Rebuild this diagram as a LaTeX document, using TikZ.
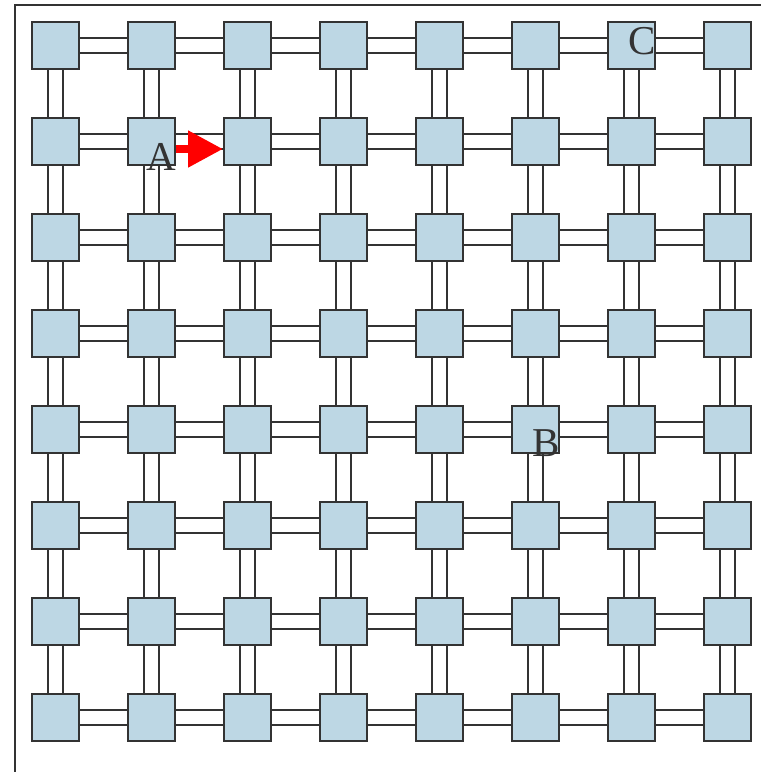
\documentclass[tikz,border=0pt]{standalone}
\usepackage{fontspec}
\setmainfont{Liberation Serif}
\usetikzlibrary{arrows.meta}
\definecolor{boxfill}{HTML}{BDD7E4}
\definecolor{ink}{HTML}{333333}
\tikzset{
  cell/.style={draw=ink, fill=boxfill, line width=2pt, minimum size=47pt, inner sep=0pt},
  wire/.style={draw=ink, line width=2pt},
  frameline/.style={draw=ink, line width=2pt},
  lab/.style={text=ink, inner sep=0pt, font=\fontsize{41}{41}\selectfont},
  redarrow/.style={draw=red, line width=8pt, -{Triangle[length=35pt,width=35pt]}}
}
\begin{document}
\begin{tikzpicture}[x=1pt,y=-1pt]
\useasboundingbox (0,0) rectangle (761,772);
\coordinate (ftop) at (761,5.3);
\coordinate (fcorner) at (15.3,5.3);
\coordinate (fbot) at (15.3,772);
\draw[frameline] (ftop) -- (fcorner) -- (fbot);
\foreach \i in {0,...,7}{
  \foreach \j in {0,...,7}{
    \node[cell] (n-\j-\i) at ({55.5+96*\i},{45.5+96*\j}) {};
  }
}
\foreach \j in {0,...,7}{
  \foreach \i [evaluate=\i as \k using int(\i+1)] in {0,...,6}{
    \draw[wire] ([yshift=7.5pt]n-\j-\i.east) -- ([yshift=7.5pt]n-\j-\k.west);
    \draw[wire] ([yshift=-7.5pt]n-\j-\i.east) -- ([yshift=-7.5pt]n-\j-\k.west);
  }
}
\foreach \i in {0,...,7}{
  \foreach \j [evaluate=\j as \k using int(\j+1)] in {0,...,6}{
    \draw[wire] ([xshift=-7.8pt]n-\j-\i.south) -- ([xshift=-7.8pt]n-\k-\i.north);
    \draw[wire] ([xshift=7.8pt]n-\j-\i.south) -- ([xshift=7.8pt]n-\k-\i.north);
  }
}
\draw[redarrow] ([yshift=-7.5pt]n-1-1.east) -- ([yshift=-7.5pt]n-1-2.west);
\node[lab, anchor=base east] (labA) at (176,170) {A};
\node[lab, anchor=base east] (labC) at (656,54) {C};
\node[lab, anchor=base east] (labB) at (560,456) {B};
\end{tikzpicture}
\end{document}
